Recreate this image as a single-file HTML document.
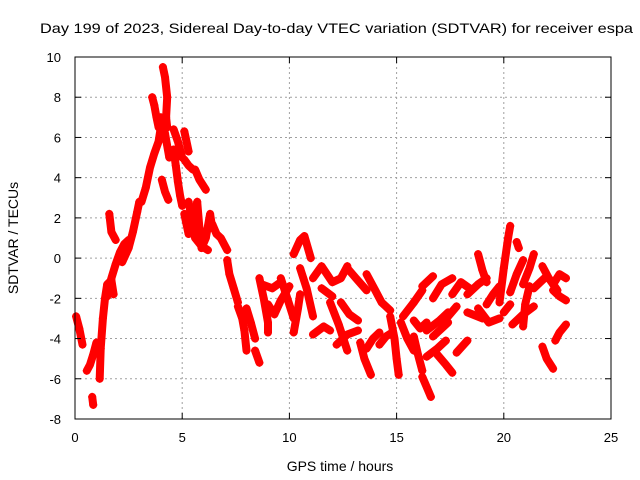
<!DOCTYPE html>
<html><head><meta charset="utf-8"><style>
body{margin:0;background:#fff;}
svg{display:block;font-family:"Liberation Sans",sans-serif;}
</style></head><body>
<svg id="chart" width="640" height="480" viewBox="0 0 640 480">
<rect width="640" height="480" fill="#fff"/>
<text x="40" y="33" font-size="14" textLength="593" lengthAdjust="spacingAndGlyphs">Day 199 of 2023, Sidereal Day-to-day VTEC variation (SDTVAR) for receiver espa</text>
<g id="grid"></g>
<g id="marks"></g>
<rect x="75" y="57" width="536" height="362" fill="none" stroke="#000" stroke-width="1"/>
<g id="ticks"></g>
<text x="340" y="471" font-size="14" text-anchor="middle">GPS time / hours</text>
<text transform="translate(18,238) rotate(-90)" font-size="14" text-anchor="middle">SDTVAR / TECUs</text>
</svg>
<script>
const xTicks = [0,5,10,15,20,25];
const yTicks = [-8,-6,-4,-2,0,2,4,6,8,10];
const trackData = [
[[0.05,-2.9],[0.2,-3.5],[0.35,-4.3]],
[[0.55,-5.6],[0.7,-5.3],[0.85,-4.8],[1.0,-4.2]],
[[0.8,-6.9],[0.85,-7.3]],
[[1.15,-6.0],[1.2,-4.5],[1.3,-3.0],[1.4,-2.0],[1.5,-1.3],[1.7,-1.1],[1.8,-1.8]],
[[1.6,2.2],[1.7,1.3],[1.9,0.9]],
[[1.5,-1.9],[1.7,-1.0],[1.9,-0.3],[2.1,0.3],[2.3,0.7],[2.5,0.9]],
[[2.2,-0.2],[2.5,0.5],[2.7,1.3],[2.9,2.3],[3.0,2.8]],
[[3.1,2.8],[3.3,3.5],[3.5,4.5],[3.7,5.2],[3.9,5.8],[4.0,6.5],[4.1,6.8]],
[[3.6,8.0],[3.7,7.6],[3.8,7.0],[3.9,6.5]],
[[4.1,9.5],[4.2,9.0],[4.3,8.0],[4.25,7.0],[4.3,6.5]],
[[4.0,7.0],[4.2,6.2],[4.4,5.0]],
[[4.6,6.4],[4.8,5.8],[5.0,5.0]],
[[4.05,3.9],[4.2,3.3],[4.35,2.9]],
[[4.6,5.4],[4.7,4.6],[4.8,3.8],[4.9,3.1],[5.0,2.6]],
[[5.1,6.3],[5.2,5.8],[5.3,5.3]],
[[5.1,4.9],[5.3,4.6],[5.5,4.4]],
[[5.6,4.4],[5.8,3.9],[6.1,3.4]],
[[5.1,2.2],[5.3,1.2],[5.5,1.8],[5.7,2.8],[5.8,1.5],[5.9,0.5],[6.1,1.0],[6.3,2.2],[6.4,1.5]],
[[5.3,2.8],[5.6,1.0],[5.9,0.6],[6.2,0.4]],
[[6.4,1.7],[6.6,1.2],[6.8,1.0],[7.1,0.4]],
[[7.1,-0.1],[7.2,-0.8],[7.4,-1.5],[7.6,-2.2]],
[[7.6,-2.4],[7.8,-3.0],[7.9,-3.6],[8.0,-4.6]],
[[8.0,-2.5],[8.2,-3.2],[8.4,-4.0]],
[[8.4,-4.6],[8.6,-5.2]],
[[8.6,-1.0],[8.8,-2.0],[9.0,-3.2],[9.0,-3.7]],
[[9.0,-2.3],[9.3,-2.8],[9.6,-2.1],[10.0,-1.4]],
[[8.7,-1.3],[9.2,-1.5],[9.6,-1.2]],
[[9.6,-1.0],[9.9,-2.0],[10.2,-3.0]],
[[10.2,0.2],[10.5,0.9],[10.7,1.1],[11.0,0.0]],
[[10.5,-0.5],[10.8,-1.5],[11.1,-2.9]],
[[10.2,-3.7],[10.4,-2.5],[10.5,-1.8]],
[[11.1,-1.0],[11.5,-0.4],[12.0,-1.2],[12.4,-1.0],[12.7,-0.4]],
[[11.5,-1.5],[12.0,-1.9]],
[[11.1,-3.8],[11.6,-3.4],[11.9,-3.6]],
[[11.9,-2.2],[12.3,-3.3],[12.7,-4.6]],
[[12.2,-4.3],[12.7,-3.8],[13.2,-3.6]],
[[12.4,-2.2],[12.8,-2.8],[13.2,-3.1]],
[[12.7,-0.5],[13.1,-1.0],[13.6,-1.6]],
[[13.3,-4.2],[13.5,-5.0],[13.8,-5.8]],
[[13.6,-0.8],[14.0,-1.6],[14.3,-2.2],[14.7,-2.6]],
[[13.6,-4.5],[13.9,-4.0],[14.2,-3.7]],
[[14.2,-4.3],[14.5,-3.9],[14.8,-3.7]],
[[14.7,-2.9],[14.9,-4.0],[15.0,-5.0],[15.1,-5.8]],
[[15.2,-3.2],[15.5,-4.0],[15.8,-4.6]],
[[15.3,-2.9],[15.8,-2.2]],
[[15.8,-2.2],[16.2,-1.6]],
[[15.8,-3.1],[16.1,-3.5],[16.4,-3.2]],
[[15.8,-3.9],[16.0,-4.8],[16.2,-5.6]],
[[16.2,-5.9],[16.4,-6.4],[16.6,-6.9]],
[[16.2,-1.4],[16.7,-0.9]],
[[16.4,-3.6],[17.0,-3.1],[17.4,-2.7]],
[[16.4,-4.9],[16.9,-4.5],[17.3,-4.1]],
[[16.7,-2.0],[17.1,-1.3],[17.6,-1.0]],
[[16.7,-3.9],[17.4,-3.2]],
[[16.9,-4.8],[17.3,-5.3],[17.6,-5.7]],
[[17.4,-2.9],[17.8,-2.4]],
[[17.6,-1.8],[18.0,-1.2],[18.4,-1.5]],
[[17.8,-4.7],[18.3,-4.1]],
[[18.3,-1.8],[18.8,-1.3],[19.2,-1.0]],
[[18.3,-2.7],[19.0,-3.0]],
[[18.8,0.2],[19.0,-0.6],[19.2,-1.2]],
[[18.8,-2.5],[19.3,-3.2],[19.8,-3.0]],
[[19.2,-2.3],[19.5,-1.8],[19.8,-1.4]],
[[19.8,-2.2],[20.0,-0.5],[20.2,1.0],[20.3,1.6]],
[[20.0,-2.7],[20.3,-2.3]],
[[20.6,0.8],[20.7,0.5]],
[[20.3,-1.7],[20.6,-0.8],[20.9,-0.1]],
[[20.4,-3.3],[20.9,-2.8],[21.4,-2.4]],
[[20.9,-3.4],[21.0,-2.3],[21.2,-1.4]],
[[20.9,-1.3],[21.2,-0.5],[21.4,0.2]],
[[21.4,-1.5],[21.7,-1.2],[22.0,-0.9]],
[[21.8,-0.4],[22.1,-1.0],[22.5,-1.6]],
[[21.8,-4.4],[22.0,-5.0],[22.3,-5.5]],
[[22.3,-1.3],[22.6,-0.8],[22.9,-1.0]],
[[22.3,-1.6],[22.6,-1.9],[22.9,-2.1]],
[[22.4,-4.1],[22.6,-3.7],[22.9,-3.3]]
];
const NS='http://www.w3.org/2000/svg';
const X0=75,X1=611,Y0=419,Y1=57;
function xs(h){return X0+(h-0)/(25-0)*(X1-X0);}
function ys(v){return Y0-(v+8)/(10+8)*(Y0-Y1);}
function mk(tag,attrs,parent){const e=document.createElementNS(NS,tag);for(const k in attrs)e.setAttribute(k,attrs[k]);parent.appendChild(e);return e;}
const grid=document.getElementById('grid'),ticks=document.getElementById('ticks'),marks=document.getElementById('marks');
xTicks.forEach(t=>{
  const x=xs(t);
  if(t>0&&t<25){const g=mk('line',{x1:x,x2:x,y1:Y0,y2:Y1,stroke:'#a0a0a0','stroke-dasharray':'2,3'},grid);
  
  }
  mk('line',{x1:x,x2:x,y1:Y0,y2:Y0-6,stroke:'#000'},ticks);
  mk('line',{x1:x,x2:x,y1:Y1,y2:Y1+6,stroke:'#000'},ticks);
  const tx=mk('text',{x:x,y:442,'font-size':'13','text-anchor':'middle'},ticks);
  tx.textContent=t;
  
  
});
yTicks.forEach(t=>{
  const y=ys(t);
  if(t>-8&&t<10){const g=mk('line',{x1:X0,x2:X1,y1:y,y2:y,stroke:'#a0a0a0','stroke-dasharray':'2,3'},grid);
  
  }
  mk('line',{x1:X0,x2:X0+6,y1:y,y2:y,stroke:'#000'},ticks);
  mk('line',{x1:X1,x2:X1-6,y1:y,y2:y,stroke:'#000'},ticks);
  const tx=mk('text',{x:61,y:y+5,'font-size':'13','text-anchor':'end'},ticks);
  tx.textContent=t;
  
  
});
trackData.forEach(tr=>{
  const pts=tr.map(p=>xs(p[0]).toFixed(1)+','+ys(p[1]).toFixed(1)).join(' ');
  const pl=mk('polyline',{points:pts,fill:'none',stroke:'#ff0000','stroke-width':'8','stroke-linejoin':'round','stroke-linecap':'round'},marks);
  
  
  tr.forEach(p=>{
    const x=xs(p[0]),y=ys(p[1]);
    const m=mk('path',{d:`M${x-4},${y}H${x+4}M${x},${y-4}V${y+4}`,stroke:'#ff0000','stroke-width':'1.3'},marks);
    
    
  });
});
</script>
</body></html>
